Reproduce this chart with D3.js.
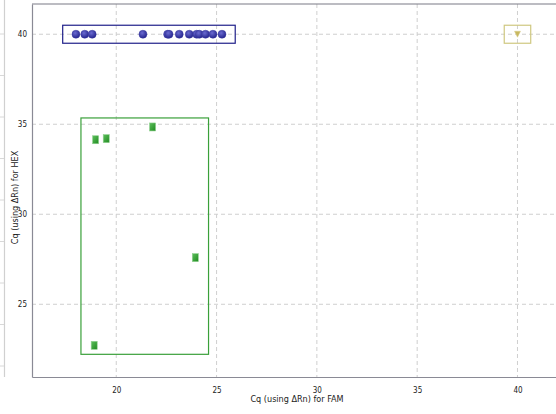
<!DOCTYPE html>
<html><head><meta charset="utf-8">
<script src="https://cdn.jsdelivr.net/npm/d3@7"></script>
<style>html,body{margin:0;padding:0;background:#fff;}svg{display:block;}</style>
</head><body>
<svg id="c" width="556" height="414"></svg>
<script>
// Data (Cq FAM, Cq HEX)
const blueFAM = [17.99, 18.43, 18.80, 21.33, 22.56, 22.63, 23.14, 23.64, 24.01, 24.14, 24.45, 24.82, 25.27];
const blueHEX = [40, 40, 40, 40, 40, 40, 40, 40, 40, 40, 40, 40, 40];
const greenFAM = [18.97, 19.50, 21.81, 23.94, 18.90];
const greenHEX = [34.14, 34.20, 34.85, 27.59, 22.72];
const yellowFAM = [40];
const yellowHEX = [40];
const xTicks = [20, 25, 30, 35, 40];
const yTicks = [25, 30, 35, 40];

const svg = d3.select("#c");
const L = 32, R = 556, T = 4, B = 377;
const x = d3.scaleLinear().domain([15.8, 41.92]).range([L, R]);
const y = d3.scaleLinear().domain([20.96, 41.68]).range([B, T]);

const defs = svg.append("defs");
const rg = defs.append("radialGradient").attr("id","gb").attr("cx","40%").attr("cy","35%").attr("r","65%");
rg.append("stop").attr("offset","0%").attr("stop-color","#6a6ad0");
rg.append("stop").attr("offset","100%").attr("stop-color","#25258f");
const lg = defs.append("linearGradient").attr("id","gg").attr("x1","0").attr("x2","1").attr("y1","0").attr("y2","1");
lg.append("stop").attr("offset","0%").attr("stop-color","#5ec05e");
lg.append("stop").attr("offset","100%").attr("stop-color","#1f8a1f");

// far-left auxiliary line
const aux = svg.append("g");
aux.append("line").attr("x1",4.5).attr("x2",4.5).attr("y1",0).attr("y2",B).attr("stroke","#d0d0d0").attr("stroke-width",1.2);
const auxTicks = d3.range(34, B, 41.5);
aux.selectAll("line.t").data(auxTicks).join("line").attr("class","t")
  .attr("x1",0).attr("x2",4).attr("y1",d=>d).attr("y2",d=>d).attr("stroke","#d8d8d8");

// grid
const grid = svg.append("g").attr("stroke","#cfcfcf").attr("stroke-dasharray","4,3").attr("stroke-width",1);
grid.selectAll("line.v").data(xTicks).join("line").attr("class","v")
  .attr("x1",d=>x(d)).attr("x2",d=>x(d)).attr("y1",T).attr("y2",B);
grid.selectAll("line.h").data(yTicks).join("line").attr("class","h")
  .attr("y1",d=>y(d)).attr("y2",d=>y(d)).attr("x1",L).attr("x2",R);

// axes
const xa = svg.append("g").attr("transform",`translate(0,${B})`)
  .call(d3.axisBottom(x).tickValues(xTicks).tickSize(0).tickPadding(10));
const ya = svg.append("g").attr("transform",`translate(${L},0)`)
  .call(d3.axisLeft(y).tickValues(yTicks).tickSize(0).tickPadding(5));
[xa, ya].forEach(a => {
  a.select(".domain").attr("stroke","#8a8a95").attr("stroke-width",1.2);
  a.selectAll("text").attr("font-family","DejaVu Sans Condensed, DejaVu Sans, sans-serif").attr("font-size",8).attr("fill","#222");
});
svg.append("line").attr("x1",L).attr("x2",R).attr("y1",T).attr("y2",T).attr("stroke","#7a7a85").attr("stroke-width",1.2);

// boxes
const padX = 0.66, padY = 0.5;
function box(fx, fy, color, w) {
  const x0 = d3.min(fx) - padX, x1 = d3.max(fx) + padX;
  const y0 = d3.min(fy) - padY, y1 = d3.max(fy) + padY;
  svg.append("rect").attr("x", x(x0)).attr("y", y(y1))
    .attr("width", x(x1) - x(x0)).attr("height", y(y0) - y(y1))
    .attr("fill","none").attr("stroke",color).attr("stroke-width",w);
}
box(blueFAM, blueHEX, "#20208a", 1.2);
box(greenFAM, greenHEX, "#3aa03a", 1.2);
box(yellowFAM, yellowHEX, "#cfc880", 1.2);

// points
svg.append("g").selectAll("circle").data(blueFAM.map((v,i)=>[v, blueHEX[i]])).join("circle")
  .attr("cx",d=>x(d[0])).attr("cy",d=>y(d[1])).attr("r",4).attr("fill","url(#gb)").attr("stroke","#3a3aa0").attr("stroke-width",0.5);
svg.append("g").selectAll("rect").data(greenFAM.map((v,i)=>[v, greenHEX[i]])).join("rect")
  .attr("x",d=>x(d[0])-3).attr("y",d=>y(d[1])-4).attr("width",6).attr("height",8)
  .attr("fill","url(#gg)").attr("stroke","#8fd08f").attr("stroke-width",0.6);
svg.append("g").selectAll("path").data(yellowFAM.map((v,i)=>[v, yellowHEX[i]])).join("path")
  .attr("transform",d=>`translate(${x(d[0])},${y(d[1])})`)
  .attr("d","M-3,-3 L3,-3 L0,3 Z").attr("fill","#c8b860").attr("stroke","#d8cc88").attr("stroke-width",0.5);

// titles
svg.append("text").attr("x",(L+R)/2 + 3).attr("y",402).attr("text-anchor","middle")
  .attr("font-family","DejaVu Sans Condensed, DejaVu Sans, sans-serif").attr("font-size",9).attr("fill","#222")
  .text("Cq (using ΔRn) for FAM");
svg.append("text").attr("transform",`translate(18,${(T+B)/2 + 7}) rotate(-90)`).attr("text-anchor","middle")
  .attr("font-family","DejaVu Sans Condensed, DejaVu Sans, sans-serif").attr("font-size",9).attr("fill","#222")
  .text("Cq (using ΔRn) for HEX");
</script>
</body></html>
